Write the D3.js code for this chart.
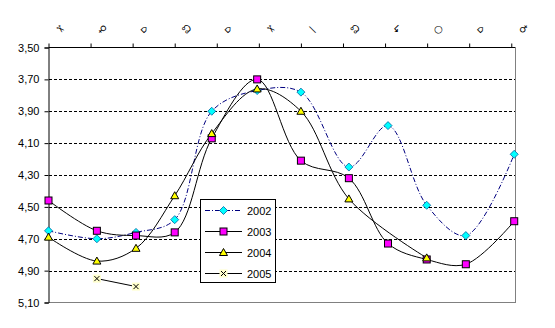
<!DOCTYPE html>
<html>
<head>
<meta charset="utf-8">
<script src="https://cdn.jsdelivr.net/npm/d3@7/dist/d3.min.js"></script>
<style>
  html, body { margin: 0; padding: 0; background: #fff; }
  svg { display: block; font-family: "Liberation Sans", Arial, sans-serif; }
</style>
</head>
<body>
<svg id="chart" width="555" height="328"></svg>
<script>
// Month labels along the top axis (symbol-font captions)
const monthLabels = ["✂", "♀", "⌂", "☊", "⌂", "✂", "—", "☊", "↳", "○", "⌂", "♁"];
// Position of each measurement along the month axis (0 = first month)
const measurePos = [0, 1.15, 2.08, 3.0, 3.88, 4.96, 6.0, 7.14, 8.07, 8.99, 9.92, 11.07];
// Level readings per year (null = no measurement)
const s2002 = [4.65, 4.70, 4.66, 4.58, 3.90, 3.77, 3.78, 4.25, 3.99, 4.49, 4.68, 4.17];
const s2003 = [4.46, 4.65, 4.68, 4.66, 4.07, 3.70, 4.21, 4.32, 4.73, 4.83, 4.86, 4.59];
const s2004 = [4.69, 4.84, 4.76, 4.43, 4.04, 3.76, 3.90, 4.45, null, 4.82, null, null];
const s2005 = [null, 4.95, 5.00, null, null, null, null, null, null, null, null, null];
const yTicks = [3.5, 3.7, 3.9, 4.1, 4.3, 4.5, 4.7, 4.9, 5.1];
const gridValues = [3.7, 3.9, 4.1, 4.3, 4.5, 4.7, 4.9];
const seriesNames = ["2002", "2003", "2004", "2005"];

const svg = d3.select("#chart");
const plotLeft = 48.5, plotRight = 515.5, plotTop = 47.5, plotBottom = 302.5;

const x = d3.scaleLinear().domain([0, 11.08]).range([plotLeft, plotLeft + 11.08 * 42.07]);
const y = d3.scaleLinear().domain([3.5, 5.1]).range([plotTop, plotBottom]);

// dashed gridlines
svg.append("g").selectAll("line").data(gridValues).join("line")
  .attr("x1", plotLeft).attr("x2", plotRight)
  .attr("y1", d => Math.round(y(d)) + 0.5).attr("y2", d => Math.round(y(d)) + 0.5)
  .attr("stroke", "#000").attr("stroke-width", 1).attr("stroke-dasharray", "3,2")
  .attr("shape-rendering", "crispEdges");

// plot-area border (right and bottom)
svg.append("path")
  .attr("d", `M${plotLeft},${plotBottom}H${plotRight}V${plotTop}`)
  .attr("fill", "none").attr("stroke", "#808080").attr("stroke-width", 1)
  .attr("shape-rendering", "crispEdges");

// value axis on the left (reversed scale)
const yAxis = d3.axisLeft(y).tickValues(yTicks).tickSize(4).tickPadding(5)
  .tickFormat(d => d3.format(".2f")(d).replace(".", ","));
const gy = svg.append("g").attr("transform", `translate(${plotLeft},0)`).call(yAxis);
gy.select(".domain").attr("stroke", "#000");
gy.selectAll(".tick line").attr("stroke", "#000");
gy.selectAll("text").attr("font-size", 11).attr("fill", "#000")
  .attr("font-family", "Liberation Sans, Arial, sans-serif");

// category axis along the top
const monthIdx = d3.range(12);
const gx = svg.append("g").attr("transform", `translate(0,${plotTop})`)
  .call(d3.axisTop(x).tickValues(monthIdx).tickSize(4).tickFormat(""));
gx.select(".domain").attr("d", `M${plotLeft},0H${plotRight}`).attr("stroke", "#000");
gx.selectAll(".tick line").attr("stroke", "#000");

svg.append("g").selectAll("text").data(monthLabels).join("text")
  .attr("transform", (d, i) => `translate(${x(i) + 12},29) rotate(45)`)
  .attr("text-anchor", "middle").attr("dominant-baseline", "central")
  .attr("font-size", 10).attr("font-family", "DejaVu Sans, sans-serif")
  .attr("fill", "#000")
  .text(d => d);

// series drawing
const line = d3.line()
  .defined(d => d.v != null)
  .x(d => x(d.p)).y(d => y(d.v))
  .curve(d3.curveCatmullRom.alpha(0.5));

function pts(values) {
  return values.map((v, i) => ({ p: measurePos[i], v })).filter(d => d.v != null);
}

const styles = {
  "2002": { stroke: "#000080", dash: "5,2,1,2" },
  "2003": { stroke: "#000", dash: null },
  "2004": { stroke: "#000", dash: null },
  "2005": { stroke: "#000", dash: null }
};
const seriesData = { "2002": s2002, "2003": s2003, "2004": s2004, "2005": s2005 };

function marker(g, name, cx, cy) {
  if (name === "2002") {
    g.append("path").attr("d", `M${cx},${cy - 4}L${cx + 4},${cy}L${cx},${cy + 4}L${cx - 4},${cy}Z`)
      .attr("fill", "#00FFFF").attr("stroke", "#0060A0").attr("stroke-width", 0.8);
  } else if (name === "2003") {
    g.append("rect").attr("x", cx - 3.5).attr("y", cy - 3.5).attr("width", 7).attr("height", 7)
      .attr("fill", "#FF00FF").attr("stroke", "#000").attr("stroke-width", 1);
  } else if (name === "2004") {
    g.append("path").attr("d", `M${cx},${cy - 4}L${cx + 4},${cy + 3}L${cx - 4},${cy + 3}Z`)
      .attr("fill", "#FFFF00").attr("stroke", "#000").attr("stroke-width", 1);
  } else {
    g.append("rect").attr("x", cx - 4).attr("y", cy - 4).attr("width", 8).attr("height", 8)
      .attr("fill", "#FFFFCC");
    g.append("path").attr("d", `M${cx - 2.5},${cy - 2.5}L${cx + 2.5},${cy + 2.5}M${cx + 2.5},${cy - 2.5}L${cx - 2.5},${cy + 2.5}`)
      .attr("stroke", "#000").attr("stroke-width", 1);
  }
}

seriesNames.forEach(name => {
  const data = pts(seriesData[name]);
  const st = styles[name];
  svg.append("path").datum(data).attr("d", line)
    .attr("fill", "none").attr("stroke", st.stroke).attr("stroke-width", 1)
    .attr("stroke-dasharray", st.dash);
});
seriesNames.forEach(name => {
  const g = svg.append("g");
  pts(seriesData[name]).forEach(d => marker(g, name, x(d.p), y(d.v)));
});

// legend
const lg = svg.append("g");
lg.append("rect").attr("x", 200.5).attr("y", 199.5).attr("width", 75).attr("height", 83)
  .attr("fill", "#fff").attr("stroke", "#000").attr("stroke-width", 1);
seriesNames.forEach((name, i) => {
  const yy = 210.5 + i * 21;
  const st = styles[name];
  lg.append("line").attr("x1", 205).attr("x2", 242).attr("y1", yy).attr("y2", yy)
    .attr("stroke", st.stroke).attr("stroke-width", 1).attr("stroke-dasharray", st.dash);
  marker(lg, name, 223.5, yy);
  lg.append("text").attr("x", 247).attr("y", yy).attr("dominant-baseline", "central")
    .attr("font-size", 11).text(name);
});
</script>
</body>
</html>
